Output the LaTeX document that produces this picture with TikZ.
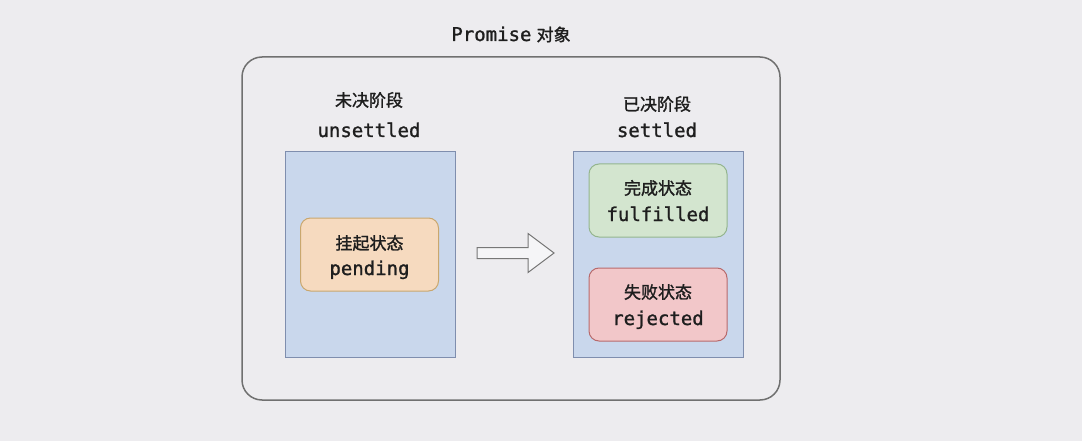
\documentclass[tikz,border=0pt]{standalone}
\usepackage{fontspec}
\newfontfamily\mono[FakeBold=1.2]{DejaVu Sans Mono}
\newfontfamily\cjk[FakeBold=1.5]{Noto Sans CJK SC}
\newcommand\mt[1]{{\mono\fontsize{19}{26}\selectfont #1}}
\definecolor{bg}{HTML}{EDECEF}
\definecolor{ink}{HTML}{1E1E1E}
\definecolor{outerline}{HTML}{707070}
\definecolor{bluefill}{HTML}{C9D7EC}
\definecolor{blueline}{HTML}{7F8EAE}
\definecolor{orangefill}{HTML}{F6DABF}
\definecolor{orangeline}{HTML}{C9A76E}
\definecolor{greenfill}{HTML}{D3E5CF}
\definecolor{greenline}{HTML}{94B58E}
\definecolor{redfill}{HTML}{F2C7C9}
\definecolor{redline}{HTML}{B86A6C}
\definecolor{arrowfill}{HTML}{F5F5F7}
\definecolor{arrowline}{HTML}{777777}
\begin{document}
\begin{tikzpicture}[x=1pt,y=-1pt,
  txt/.style={text=ink,font=\fontsize{17}{26}\selectfont,inner sep=0pt,align=center},
  outerbox/.style={draw=outerline,line width=1.5pt,rounded corners=20pt,fill=bg},
  stagebox/.style={draw=blueline,line width=1pt,fill=bluefill,minimum width=170pt,minimum height=205pt,inner sep=0pt},
  statebox/.style={rounded corners=10pt,line width=1pt,minimum width=138pt,minimum height=73pt,inner sep=0pt},
  hollowarrow/.style={draw=arrowline,fill=arrowfill,line width=1pt,line join=miter}
]
\fill[bg] (0,0) rectangle (1082,441);
\useasboundingbox (0,0) rectangle (1082,441);

\node[outerbox,minimum width=538pt,minimum height=343pt] (obj) at (511,228.5) {};
\node[txt,anchor=base] (title) at (511,41) {\mt{Promise} \cjk 对象};

\node[txt] (ulabel) at (369,100) {\cjk 未决阶段};
\node[txt,anchor=base] (uname) at (369,137) {\mt{unsettled}};
\node[txt] (slabel) at (657,104) {\cjk 已决阶段};
\node[txt,anchor=base] (sname) at (657,137) {\mt{settled}};

\node[stagebox] (unsettled) at (370,254.5) {};
\node[stagebox] (settled) at (658,254.5) {};

\node[statebox,draw=orangeline,fill=orangefill] (pending) at (369.5,254.5) {};
\node[statebox,draw=greenline,fill=greenfill] (fulfilled) at (658,200.5) {};
\node[statebox,draw=redline,fill=redfill] (rejected) at (658,304.5) {};

\node[txt] (pendingzh) at ([yshift=11.5pt]pending.center) {\cjk 挂起状态};
\node[txt,anchor=base] (pendingen) at ([yshift=-20.5pt]pending.center) {\mt{pending}};
\node[txt] (fulfilledzh) at ([yshift=12.5pt]fulfilled.center) {\cjk 完成状态};
\node[txt,anchor=base] (fulfilleden) at ([yshift=-20.5pt]fulfilled.center) {\mt{fulfilled}};
\node[txt] (rejectedzh) at ([yshift=12.5pt]rejected.center) {\cjk 失败状态};
\node[txt,anchor=base] (rejecteden) at ([yshift=-20.5pt]rejected.center) {\mt{rejected}};

\coordinate (atail) at (477,253);
\coordinate (atip) at (554,253);
\draw[hollowarrow] (atail) ++(0,-5.5) -- ++(51,0) -- ++(0,-14) -- (atip) -- ++(-26,19.5) -- ++(0,-14) -- ++(-51,0) -- cycle;
\end{tikzpicture}
\end{document}
